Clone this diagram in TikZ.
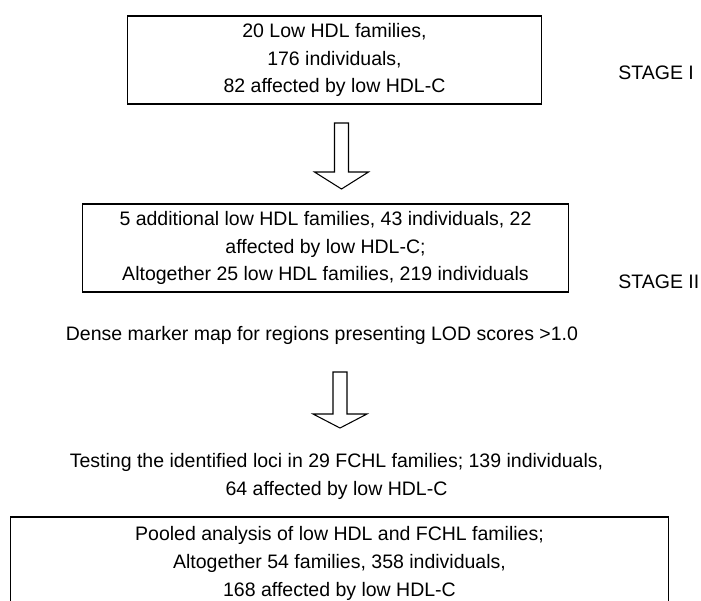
\documentclass[tikz,border=0pt]{standalone}
\usepackage{fontspec}
\setmainfont{Liberation Sans}
\usetikzlibrary{positioning,calc}
\newcommand{\flowfont}{\fontsize{11.1}{15.9}\selectfont}
\tikzset{
  stagebox/.style={draw,line width=0.6pt,align=center,inner sep=0pt,font=\flowfont},
  flowtext/.style={align=center,inner sep=0pt,font=\flowfont},
  stagelabel/.style={anchor=west,inner sep=0pt,font=\flowfont},
}
% hollow block arrow: x, top, head base, tip
\newcommand{\hollowdown}[4]{%
  \draw[line width=0.6pt,fill=white] (#1-7,#2) -- (#1+7,#2) -- (#1+7,#3) -- (#1+27,#3)
    -- (#1,#4) -- (#1-27,#3) -- (#1-7,#3) -- cycle;
}

\begin{document}
\begin{tikzpicture}[x=0.02cm,y=-0.02cm]
  \useasboundingbox (0,0) rectangle (701,600);
  \clip (0,0) rectangle (701,600);
  \node[stagebox,minimum width=8.3cm,minimum height=1.76cm] (low) at (334.5,60)
       {20 Low HDL families,\\176 individuals,\\82 affected by low HDL-C};
  \node[stagelabel] (st1) at (618,73) {STAGE I};
  \hollowdown{341.5}{123}{172}{189}
  \node[stagebox,minimum width=9.74cm,minimum height=1.76cm] (add) at (325.5,248)
       {5 additional low HDL families, 43 individuals, 22\\affected by low HDL-C;\\Altogether 25 low HDL families, 219 individuals};
  \node[stagelabel] (st2) at (618,282) {STAGE II};
  \node[flowtext] (dense) at (322,335) {Dense marker map for regions presenting LOD scores >1.0};
  \hollowdown{340}{372}{414}{428}
  \node[flowtext] (fchl) at (336.5,476.5)
       {Testing the identified loci in 29 FCHL families; 139 individuals,\\64 affected by low HDL-C};
  \node[stagebox,minimum width=13.18cm,minimum height=1.86cm] (pool) at (339.5,563.5)
       {Pooled analysis of low HDL and FCHL families;\\Altogether 54 families, 358 individuals,\\168 affected by low HDL-C};
\end{tikzpicture}
\end{document}
